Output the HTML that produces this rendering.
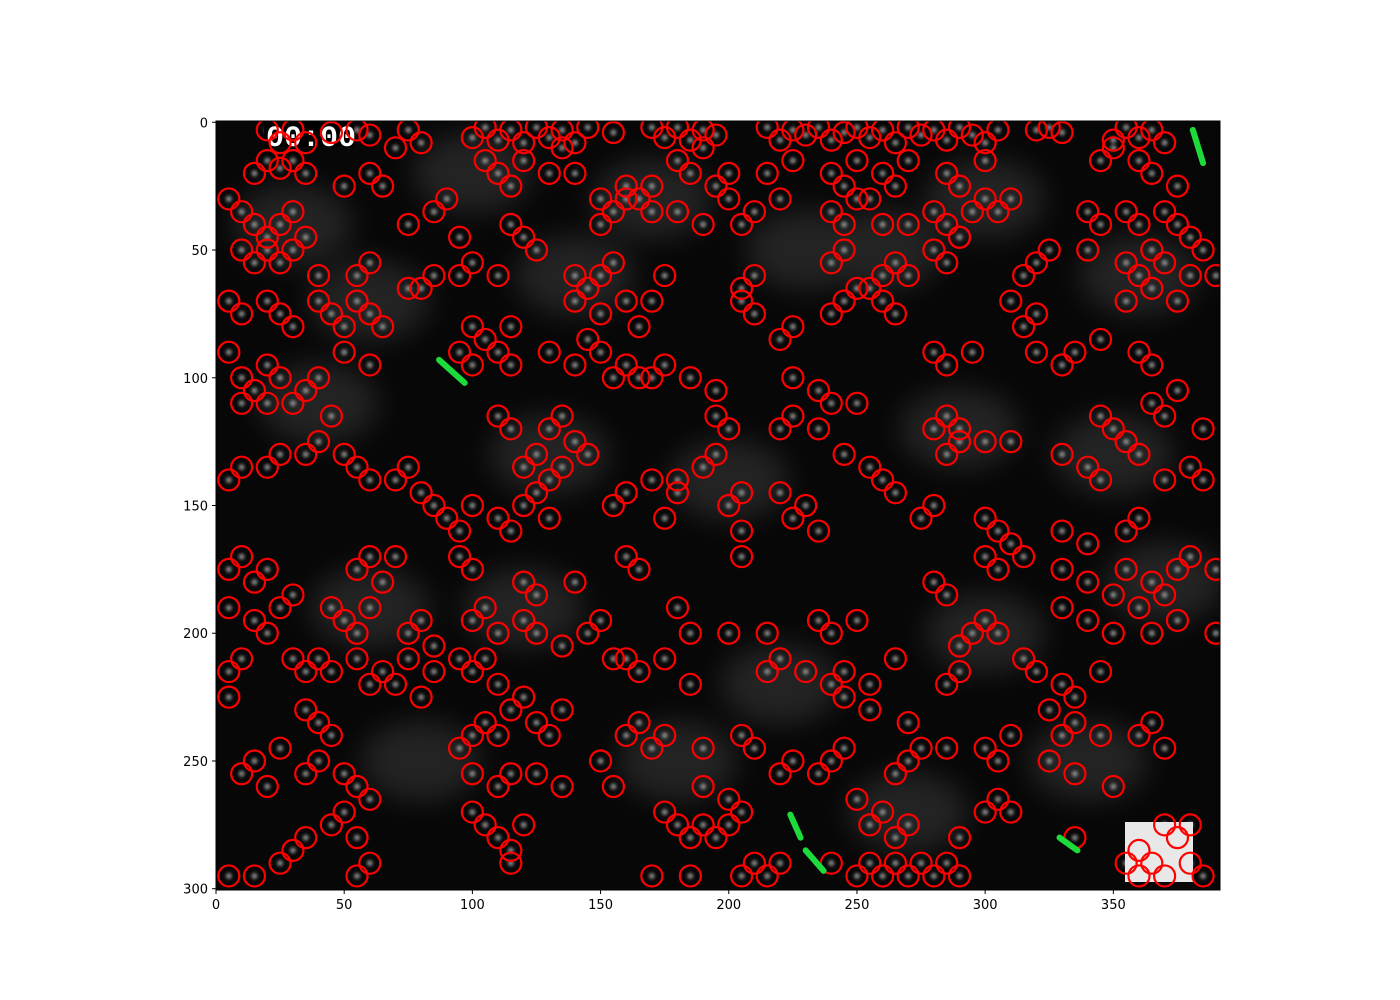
<!DOCTYPE html>
<html><head><meta charset="utf-8"><style>
html,body{margin:0;padding:0;background:#fff;}
svg{display:block;font-family:"DejaVu Sans","Liberation Sans",sans-serif;}
</style></head><body>
<svg id="chart" width="1400" height="1000" viewBox="0 0 1400 1000">
<defs>
<filter id="blur" x="-50%" y="-50%" width="200%" height="200%"><feGaussianBlur stdDeviation="14"/></filter>
<filter id="blur2" x="-50%" y="-50%" width="200%" height="200%"><feGaussianBlur stdDeviation="1.5"/></filter>
<clipPath id="clip"><rect x="216" y="121" width="1004" height="769"/></clipPath>
</defs>
<rect x="216" y="121" width="1004" height="769" fill="#070707"/>
<g id="haze" clip-path="url(#clip)" filter="url(#blur)" opacity="0.22"></g>
<g id="dots" clip-path="url(#clip)" filter="url(#blur2)" opacity="0.8"></g>
<g id="overlay" clip-path="url(#clip)"></g>
<g id="circles" clip-path="url(#clip)"></g>
<g id="green" clip-path="url(#clip)"></g>
<rect x="216" y="121" width="1004" height="769" fill="none" stroke="#000" stroke-width="1"/>
<g id="xaxis"></g>
<g id="yaxis"></g>
</svg>
<script>
const xTicks=[0,50,100,150,200,250,300,350];
const yTicks=[0,50,100,150,200,250,300];
const spotX=[20,25,30,35,45,55,60,75,80,100,105,110,115,120,125,130,135,140,145,155,170,175,180,185,190,195,215,220,225,230,235,240,245,250,255,260,265,270,275,280,285,290,295,300,305,320,325,330,350,355,360,365,370];
const spotY0=[3,8,3,8,4,3,5,3,8,6,2,7,3,8,2,6,3,8,2,4,2,6,2,7,3,5,2,7,3,5,2,7,4,2,6,3,8,2,5,3,7,2,5,8,3,3,2,4,7,2,6,3,8];
const spots=[[15,20],[20,15],[25,18],[30,15],[35,20],[50,25],[60,20],[65,25],[70,10],[105,15],[110,20],[115,25],[120,15],[130,20],[135,10],[140,20],[150,30],[160,25],[165,30],[170,25],[180,15],[185,20],[190,10],[195,25],[200,20],[215,20],[225,15],[240,20],[245,25],[250,15],[255,30],[260,20],[265,25],[270,15],[285,20],[290,25],[300,15],[345,15],[350,10],[360,15],[365,20],[375,25],
[5,30],[10,35],[15,40],[20,45],[25,40],[30,35],[35,45],[75,40],[85,35],[90,30],[95,45],[115,40],[120,45],[150,40],[155,35],[160,30],[170,35],[180,35],[190,40],[200,30],[205,40],[210,35],[220,30],[240,35],[245,40],[250,30],[260,40],[270,40],[280,35],[285,40],[290,45],[295,35],[300,30],[305,35],[310,30],[340,35],[345,40],[355,35],[360,40],[370,35],[375,40],[380,45],
[10,50],[15,55],[20,50],[25,55],[30,50],[40,60],[55,60],[60,55],[75,65],[85,60],[95,60],[100,55],[110,60],[125,50],[140,60],[145,65],[150,60],[155,55],[175,60],[205,65],[210,60],[240,55],[245,50],[255,65],[260,60],[265,55],[270,60],[280,50],[285,55],[290,45],[315,60],[320,55],[325,50],[340,50],[355,55],[360,60],[365,50],[370,55],[380,60],[385,50],[390,60],
[5,70],[10,75],[20,70],[25,75],[30,80],[40,70],[45,75],[50,80],[55,70],[60,75],[65,80],[80,65],[100,80],[105,85],[115,80],[140,70],[150,75],[160,70],[165,80],[170,70],[205,70],[210,75],[220,85],[225,80],[240,75],[245,70],[250,65],[260,70],[265,75],[310,70],[315,80],[320,75],[355,70],[365,65],[375,70],
[5,90],[10,100],[15,105],[20,95],[25,100],[35,105],[40,100],[50,90],[60,95],[95,90],[100,95],[110,90],[115,95],[130,90],[140,95],[145,85],[150,90],[160,95],[165,100],[175,95],[185,100],[195,105],[225,100],[235,105],[280,90],[285,95],[295,90],[320,90],[330,95],[335,90],[345,85],[360,90],[365,95],
[10,110],[20,110],[30,110],[45,115],[110,115],[115,120],[130,120],[135,115],[140,125],[155,100],[170,100],[195,115],[200,120],[220,120],[225,115],[235,120],[240,110],[250,110],[280,120],[285,115],[290,120],[300,125],[310,125],[345,115],[350,120],[355,125],[365,110],[370,115],[375,105],[385,120],
[5,140],[10,135],[20,135],[25,130],[35,130],[40,125],[50,130],[55,135],[60,140],[70,140],[75,135],[120,135],[125,130],[130,140],[135,135],[145,130],[170,140],[180,140],[190,135],[195,130],[205,145],[245,130],[255,135],[260,140],[265,145],[285,130],[290,125],[330,130],[340,135],[345,140],[360,130],[370,140],[380,135],[385,140],
[80,145],[85,150],[90,155],[95,160],[100,150],[110,155],[115,160],[120,150],[125,145],[130,155],[155,150],[160,145],[175,155],[180,145],[200,150],[205,160],[220,145],[225,155],[230,150],[235,160],[275,155],[280,150],[300,155],[305,160],[310,165],[330,160],[340,165],[355,160],[360,155],
[5,175],[10,170],[15,180],[20,175],[55,175],[60,170],[65,180],[70,170],[95,170],[100,175],[120,180],[125,185],[140,180],[160,170],[165,175],[205,170],[280,180],[285,185],[300,170],[305,175],[315,170],[330,175],[340,180],[350,185],[355,175],[365,180],[370,185],[375,175],[380,170],[390,175],
[5,190],[15,195],[20,200],[25,190],[30,185],[45,190],[50,195],[55,200],[60,190],[75,200],[80,195],[85,205],[100,195],[105,190],[110,200],[120,195],[125,200],[135,205],[145,200],[150,195],[160,210],[180,190],[185,200],[200,200],[215,200],[235,195],[240,200],[250,195],[290,205],[295,200],[300,195],[305,200],[330,190],[340,195],[350,200],[360,190],[365,200],[375,195],[390,200],
[5,215],[10,210],[30,210],[35,215],[40,210],[45,215],[55,210],[60,220],[65,215],[70,220],[75,210],[85,215],[95,210],[100,215],[105,210],[110,220],[155,210],[165,215],[175,210],[185,220],[215,215],[220,210],[230,215],[240,220],[245,215],[255,220],[265,210],[285,220],[290,215],[315,210],[320,215],[330,220],[335,225],[345,215],
[5,225],[35,230],[40,235],[45,240],[80,225],[95,245],[100,240],[105,235],[110,240],[115,230],[120,225],[125,235],[130,240],[135,230],[160,240],[165,235],[170,245],[175,240],[190,245],[205,240],[210,245],[245,225],[255,230],[270,235],[275,245],[300,245],[310,240],[325,230],[330,240],[335,235],[345,240],[360,240],[365,235],[370,245],
[10,255],[15,250],[20,260],[25,245],[35,255],[40,250],[50,255],[55,260],[60,265],[100,255],[110,260],[115,255],[125,255],[135,260],[150,250],[155,260],[190,260],[200,265],[220,255],[225,250],[235,255],[240,250],[245,245],[265,255],[270,250],[285,245],[305,250],[325,250],[335,255],[350,260],
[30,285],[35,280],[45,275],[50,270],[55,280],[100,270],[105,275],[110,280],[115,285],[120,275],[175,270],[180,275],[185,280],[190,275],[195,280],[200,275],[205,270],[250,265],[255,275],[260,270],[265,280],[270,275],[290,280],[300,270],[305,265],[310,270],[335,280],[360,285],[370,275],[375,280],[380,275],
[5,295],[15,295],[25,290],[55,295],[60,290],[115,290],[170,295],[185,295],[205,295],[210,290],[215,295],[220,290],[240,290],[250,295],[255,290],[260,295],[265,290],[270,295],[275,290],[280,295],[285,290],[290,295],[355,290],[360,295],[365,290],[370,295],[380,290],[385,295]];
const haze=[[30,40],[60,70],[140,60],[170,30],[260,50],[300,30],[360,60],[40,110],[130,130],[200,140],[290,120],[350,130],[60,190],[120,190],[220,220],[300,200],[370,180],[80,250],[180,250],[270,270],[340,250],[230,50],[100,20]];
const streaks=[[[87,93],[97,102]],[[381,3],[385,16]],[[224,271],[228,280]],[[230,285],[237,293]],[[329,280],[336,285]]];

const X0=216,X1=1220,Y0=121,Y1=890;
const xScale=v=>X0+v*(1004/391.6);
const yScale=v=>Y0+(v+0.5)*(769/301);
const NS='http://www.w3.org/2000/svg';
function mk(tag,attrs,parent){const e=document.createElementNS(NS,tag);for(const k in attrs)e.setAttribute(k,attrs[k]);parent.appendChild(e);return e;}

const hz=document.getElementById('haze');
haze.forEach(h=>{const e=mk('ellipse',{cx:xScale(h[0]),cy:yScale(h[1]),rx:60,ry:40,fill:'#888'},hz);

});

const all=spotX.map((x,i)=>[x,spotY0[i]]).concat(spots);
const dg=document.getElementById('dots');
all.forEach(p=>{const e=mk('circle',{cx:xScale(p[0]),cy:yScale(p[1]),r:3,fill:'#aaa'},dg);

});

const ov=document.getElementById('overlay');
let r=mk('rect',{x:264,y:121,width:90,height:26,fill:'#000'},ov);


let t=mk('text',{x:266,y:146,fill:'#fff','font-size':30,'font-family':'"Liberation Mono",monospace','font-weight':'bold'},ov);
t.textContent='00:00';


let sb=mk('rect',{x:1125,y:822,width:68,height:60,fill:'#e8e8e8'},ov);



const cg=document.getElementById('circles');
all.forEach(p=>{const e=mk('circle',{cx:xScale(p[0]),cy:yScale(p[1]),r:10.5,fill:'none',stroke:'#ff0000','stroke-width':2.2},cg);

});

const gg=document.getElementById('green');
streaks.forEach(s=>{const e=mk('line',{x1:xScale(s[0][0]),y1:yScale(s[0][1]),x2:xScale(s[1][0]),y2:yScale(s[1][1]),stroke:'#1ddb3a','stroke-width':6,'stroke-linecap':'round'},gg);

});

const xa=document.getElementById('xaxis');
xTicks.forEach(v=>{const x=xScale(v);
const l=mk('line',{x1:x,y1:Y1,x2:x,y2:Y1+4,stroke:'#000','stroke-width':1},xa);


const tx=mk('text',{x:x,y:Y1+19,'text-anchor':'middle','font-size':13,fill:'#000'},xa);
tx.textContent=v;

});
const ya=document.getElementById('yaxis');
yTicks.forEach(v=>{const y=yScale(v);
const l=mk('line',{x1:X0-4,y1:y,x2:X0,y2:y,stroke:'#000','stroke-width':1},ya);


const tx=mk('text',{x:X0-8,y:y+5,'text-anchor':'end','font-size':13,fill:'#000'},ya);
tx.textContent=v;

});
</script>
</body></html>
